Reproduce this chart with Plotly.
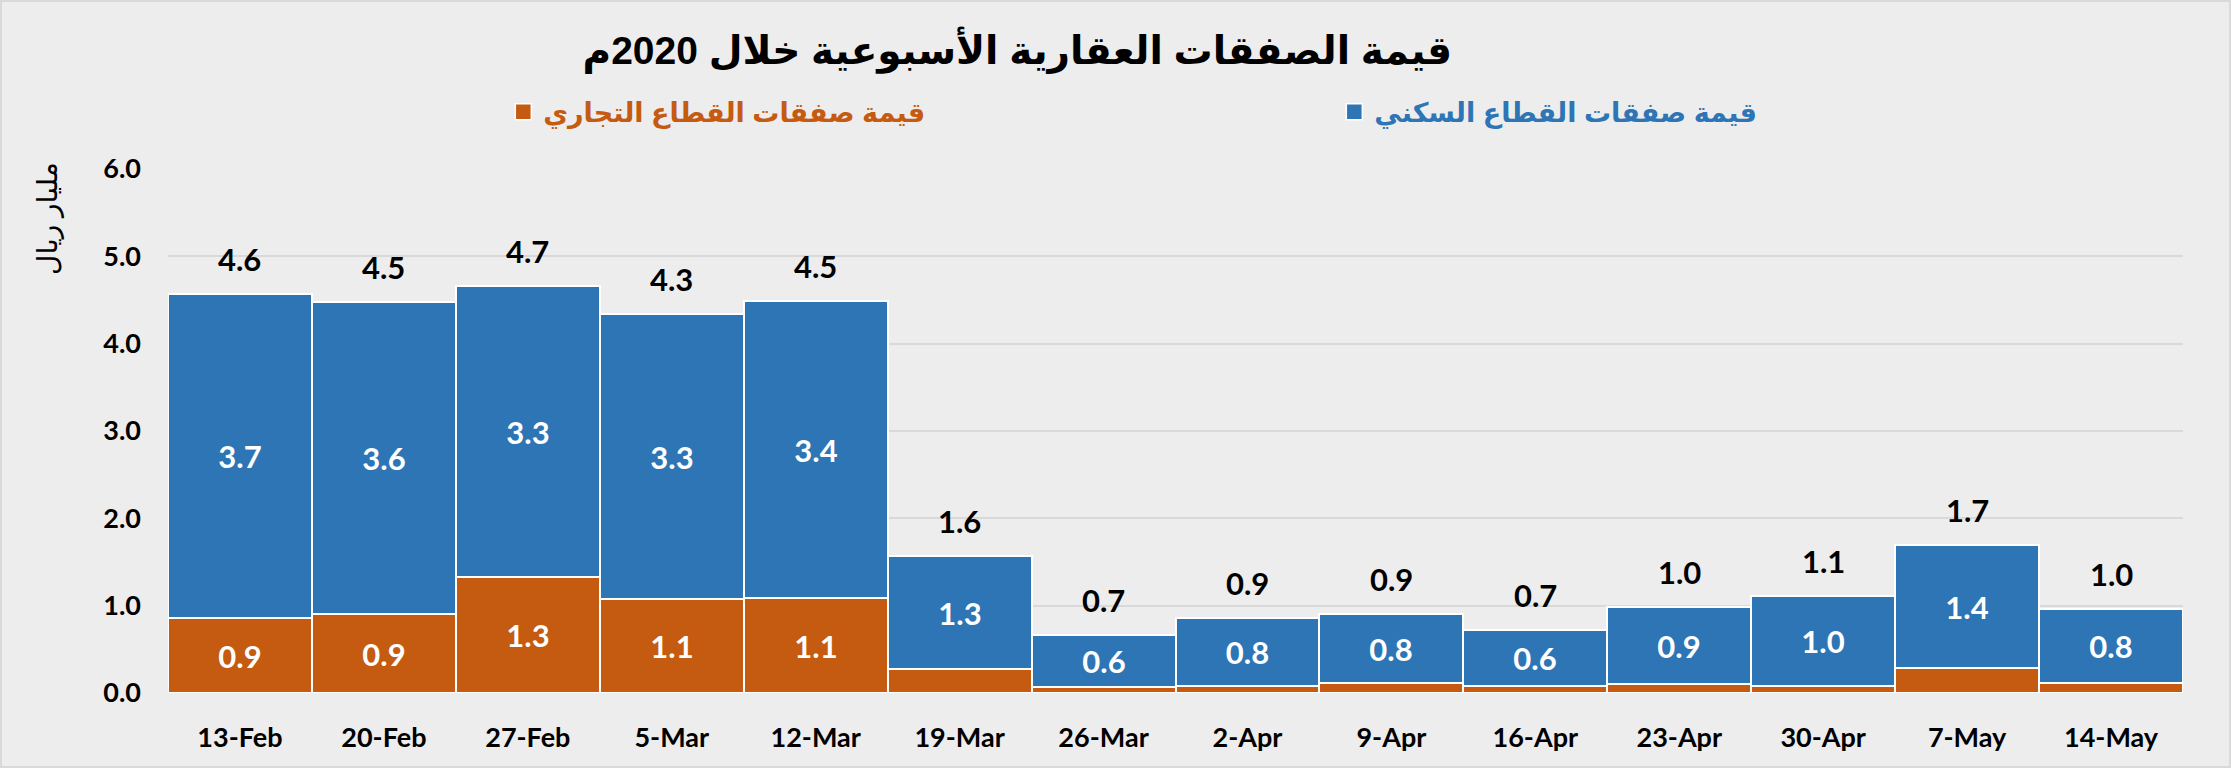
import plotly.graph_objects as go

# weekly values, billion riyals
weeks = ['13-Feb', '20-Feb', '27-Feb', '5-Mar', '12-Mar', '19-Mar', '26-Mar',
         '2-Apr', '9-Apr', '16-Apr', '23-Apr', '30-Apr', '7-May', '14-May']
commercial = [0.86, 0.91, 1.33, 1.08, 1.09, 0.28, 0.07, 0.08, 0.11, 0.08, 0.10, 0.08, 0.29, 0.12]
residential = [3.71, 3.57, 3.33, 3.26, 3.40, 1.29, 0.59, 0.78, 0.79, 0.64, 0.89, 1.03, 1.41, 0.84]

title_text = 'قيمة الصفقات العقارية الأسبوعية خلال 2020م'
name_commercial = 'قيمة صفقات القطاع التجاري'
name_residential = 'قيمة صفقات القطاع السكني'
y_title = 'مليار ريال'

BLUE = '#2E75B6'
ORANGE = '#C55A11'
BG = '#EDEDED'
NUM_FONT = 'Lato, Carlito, Calibri, sans-serif'
AR_FONT = 'Arial, "Liberation Sans", "DejaVu Sans", sans-serif'

totals = [c + r for c, r in zip(commercial, residential)]

fig = go.Figure()

# commercial first so it sits at the bottom of the stack
fig.add_trace(go.Bar(
    x=weeks, y=commercial, showlegend=False,
    marker=dict(color=ORANGE, line=dict(color='white', width=2)),
    text=[f'{v:.1f}' if v > 0.5 else '' for v in commercial],
    textposition='inside', insidetextanchor='middle', textangle=0,
    constraintext='none',
    textfont=dict(family=NUM_FONT, size=31, color='white', weight='bold'),
))
fig.add_trace(go.Bar(
    x=weeks, y=residential, showlegend=False,
    marker=dict(color=BLUE, line=dict(color='white', width=2)),
    text=[f'{v:.1f}' for v in residential],
    textposition='inside', insidetextanchor='middle', textangle=0,
    constraintext='none',
    textfont=dict(family=NUM_FONT, size=31, color='white', weight='bold'),
))

# legend entries with bigger square keys
for nm, col in [(name_commercial, ORANGE), (name_residential, BLUE)]:
    fig.add_trace(go.Scatter(
        x=[weeks[0]], y=[None], mode='markers',
        name=f"<span style='color:{col}'>{nm}</span>",
        marker=dict(symbol='square', size=16, color=col, line=dict(color='white', width=1.5)),
    ))

# totals above each column
for wk, t in zip(weeks, totals):
    fig.add_annotation(x=wk, y=t, text=f'{t:.1f}', showarrow=False,
                       yanchor='middle', yshift=35,
                       font=dict(family=NUM_FONT, size=31, color='black', weight='bold'))

# y axis title sits near the top, rotated
fig.add_annotation(text=y_title, xref='paper', yref='paper',
                   x=-0.0595, y=0.905, textangle=-90, showarrow=False,
                   xanchor='center', yanchor='middle',
                   font=dict(family=AR_FONT, size=28, color='black'))

# thin frame around the whole chart
fig.add_shape(type='rect', xref='paper', yref='paper',
              x0=-167 / 2015, x1=1 + 47 / 2015, y0=-74 / 524, y1=1 + 168 / 524,
              line=dict(color='#D9D9D9', width=2), layer='below')

fig.update_layout(
    width=2231, height=768,
    barmode='stack', bargap=0,
    paper_bgcolor=BG, plot_bgcolor=BG,
    margin=dict(l=168, r=48, t=169, b=75, autoexpand=False),
    title=dict(text=title_text, x=0.456, xanchor='center', y=0.935, yanchor='middle',
               font=dict(family=AR_FONT, size=39, color='black', weight='bold')),
    legend=dict(orientation='h', xref='container', yref='container',
                traceorder='normal',
                x=0.2256, xanchor='left', y=0.854, yanchor='middle',
                entrywidth=786, itemwidth=30, bgcolor='rgba(0,0,0,0)',
                font=dict(family=AR_FONT, size=27, weight='bold')),
)
fig.update_xaxes(range=[-0.5, len(weeks) - 0.5], showgrid=False, showline=False, ticks='',
                 ticklabelstandoff=26, automargin=False,
                 tickfont=dict(family=NUM_FONT, size=27, color='black', weight='bold'))
fig.update_yaxes(range=[0, 6], dtick=1, tickformat='.1f', showline=False, zeroline=False,
                 gridcolor='#D9D9D9', gridwidth=2, ticks='', ticklabelstandoff=26,
                 automargin=False,
                 tickfont=dict(family=NUM_FONT, size=27, color='black', weight='bold'))

# drop the browser's default body margin so the chart sits flush in the window
fig.write_html('out.html', config={'displayModeBar': False},
               post_script="document.body.style.margin='0';")
